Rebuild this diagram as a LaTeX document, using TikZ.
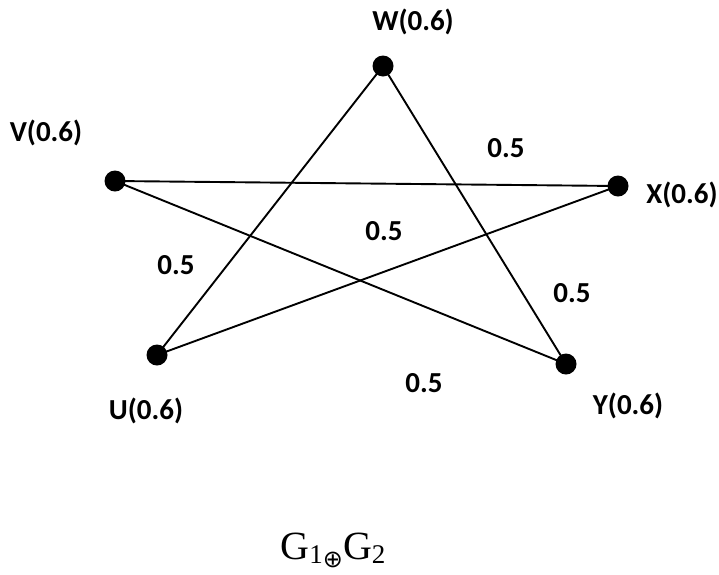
\documentclass[tikz,border=0pt]{standalone}
\usepackage{fontspec}
\setmainfont{Liberation Serif}
\newfontfamily\lblfont{Carlito}
\newfontfamily\symfont{DejaVu Sans}
\begin{document}
\begin{tikzpicture}[x=1pt,y=-1pt,
  vertex/.style={circle,fill=black,inner sep=0pt,minimum size=21pt},
  edge/.style={line width=1.9pt},
  vlabel/.style={font=\lblfont\bfseries\fontsize{29}{29}\selectfont,inner sep=0pt},
  wlabel/.style={font=\lblfont\bfseries\fontsize{29}{29}\selectfont,inner sep=0pt}]
\useasboundingbox (0,0) rectangle (719,574);
% vertices
\node[vertex] (W) at (383,66) {};
\node[vertex] (V) at (115,181) {};
\node[vertex] (X) at (618,186) {};
\node[vertex] (U) at (157,355) {};
\node[vertex] (Y) at (566,364) {};
% edges
\draw[edge] (W.center) -- (U.center);
\draw[edge] (W.center) -- (Y.center);
\draw[edge] (V.center) -- (X.center);
\draw[edge] (V.center) -- (Y.center);
\draw[edge] (X.center) -- (U.center);
% vertex labels
\node[vlabel] (lW) at (413,22) {W(0.6)};
\node[vlabel] (lV) at (46,133) {V(0.6)};
\node[vlabel] (lX) at (682,195) {X(0.6)};
\node[vlabel] (lU) at (146,411) {U(0.6)};
\node[vlabel] (lY) at (628,406) {Y(0.6)};
% edge weights
\node[wlabel] (e1) at (506,148) {0.5};
\node[wlabel] (e2) at (384,231) {0.5};
\node[wlabel] (e3) at (176,265) {0.5};
\node[wlabel] (e4) at (572,293) {0.5};
\node[wlabel] (e5) at (424,383) {0.5};
% caption
\node[font=\fontsize{40}{40}\selectfont,inner sep=0pt] (cap) at (333,550)
  {G\raisebox{-0.12em}{\fontsize{27}{27}\selectfont1}\raisebox{-0.2em}{\symfont\fontsize{24}{24}\selectfont ⊕}G\raisebox{-0.12em}{\fontsize{27}{27}\selectfont2}};
\end{tikzpicture}
\end{document}
